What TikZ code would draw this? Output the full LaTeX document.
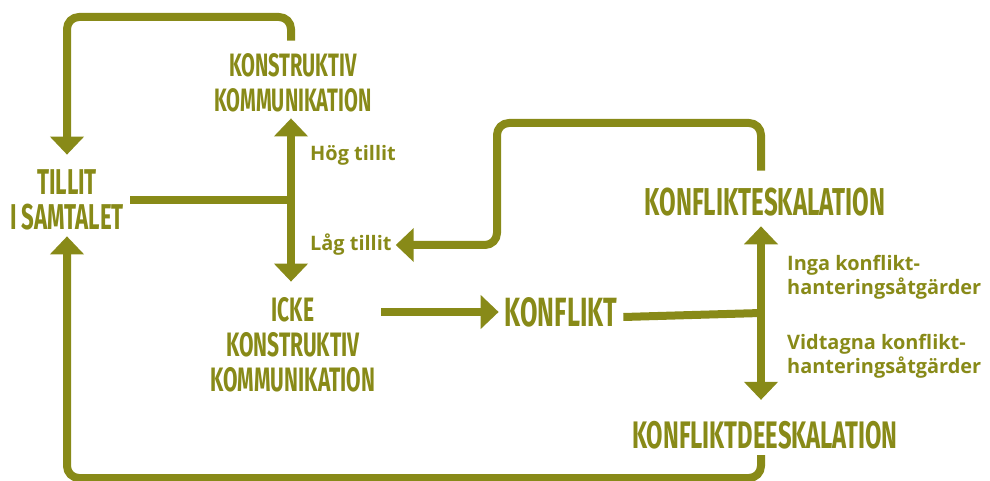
\documentclass[tikz,border=0pt]{standalone}
\usepackage{fontspec}
\newfontfamily\headfont[FakeStretch=0.62]{Fira Sans}
\newfontfamily\labelfont{Open Sans}
\usetikzlibrary{arrows.meta}
\definecolor{kgreen}{HTML}{888A18}
\tikzset{
  flow/.style={draw=kgreen,line width=8bp},
  head/.style={text=kgreen,align=center,inner sep=6bp,font=\headfont\bfseries\fontsize{#1}{35}\selectfont},
  lbl/.style={text=kgreen,align=left,inner sep=0pt,anchor=west,font=\labelfont\bfseries\fontsize{20}{24}\selectfont},
}
\begin{document}
\begin{tikzpicture}[x=1bp,y=-1bp,>={Triangle[width=33bp,length=18bp]},line join=round]
\useasboundingbox (0,0) rectangle (990,481);
% boxes of text
\node[head=36] (tillit) at (67,200) {TILLIT\\I SAMTALET};
\node[head=32.5] (konstr) at (293,83) {KONSTRUKTIV\\KOMMUNIKATION};
\node[head=34] (icke) at (293,345) {ICKE\\KONSTRUKTIV\\KOMMUNIKATION};
\node[head=41] (konflikt) at (561,312) {KONFLIKT};
\node[head=39] (eskal) at (765,202) {KONFLIKTESKALATION};
\node[head=38.5] (deeskal) at (765,435) {KONFLIKTDEESKALATION};
\node[lbl] (hog) at (310,155) {Hög tillit};
\node[lbl] (lag) at (310,245) {Låg tillit};
\node[lbl] (inga) at (787,277) {Inga konflikt-\\hanteringsåtgärder};
\node[lbl] (vidt) at (787,356) {Vidtagna konflikt-\\hanteringsåtgärder};
% junctions and corners
\path
(291,200) coordinate (tj)
(761,313) coordinate (kj)
(67,17) coordinate (topl)
(67,478) coordinate (botl)
(497,123) coordinate (rloop)
;
% connectors
\draw[flow] (tillit.east) -- (tj);
\draw[flow,<->] (tj |- konstr.south) -- ([yshift=10bp]tj |- icke.north);
\draw[flow,->,rounded corners=12bp] ([yshift=7bp]tj |- konstr.north) |- (topl) -- ([yshift=9bp]tillit.north);
\draw[flow,->] (icke.east |- konflikt.west) -- (konflikt.west);
\draw[flow] ([yshift=-5bp]konflikt.east) -- (kj);
\draw[flow,<->] ([yshift=-4bp]kj |- eskal.south) -- ([yshift=15bp]kj |- deeskal.north);
\draw[flow,->,rounded corners=12bp] ([yshift=11bp]kj |- eskal.north) |- (rloop) |- ([xshift=4bp]lag.east);
\draw[flow,->,rounded corners=12bp] (kj |- deeskal.south) |- (botl) -- (tillit.south);
\end{tikzpicture}
\end{document}
